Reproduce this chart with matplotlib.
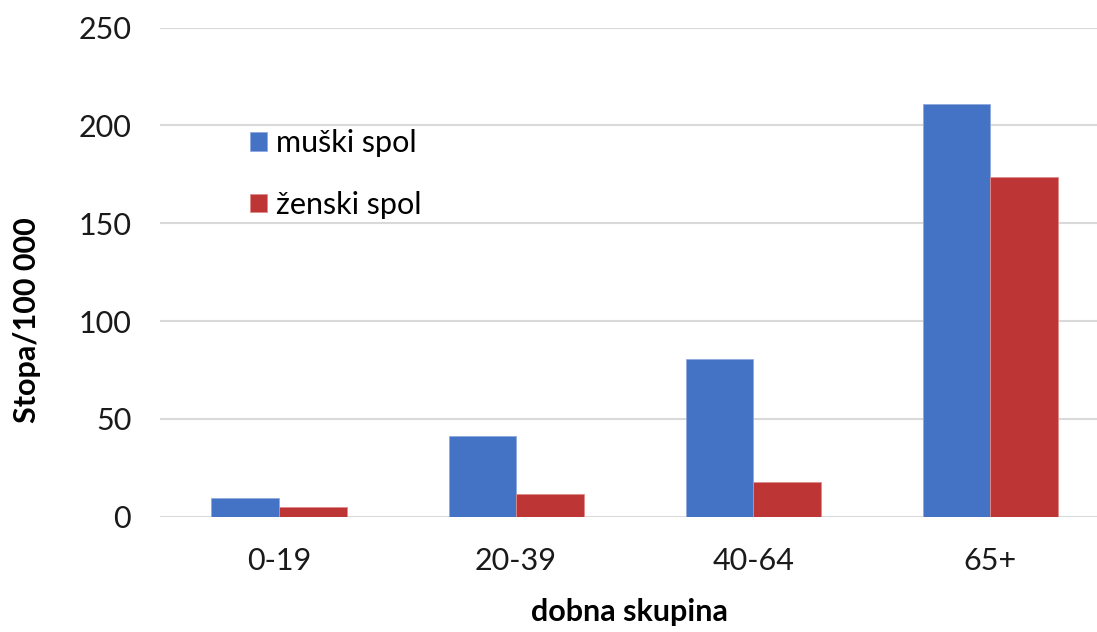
import numpy as np
import matplotlib
matplotlib.use('Agg')
import matplotlib.pyplot as plt

categories = ['0-19', '20-39', '40-64', '65+']
muski = [9.8, 41.4, 80.5, 210.9]
zenski = [4.9, 11.5, 17.5, 173.8]
series_names = ['muški spol', 'ženski spol']

plt.rcParams['font.family'] = ['Lato', 'DejaVu Sans']

fig = plt.figure(figsize=(10.97, 6.32), dpi=100)
# plot area runs past the right edge, like the original
ax = fig.add_axes([160.4 / 1097, (632 - 516.7) / 632, 948.6 / 1097, 489.2 / 632])

x = np.arange(len(categories))
w = 0.285
ax.bar(x - w / 2, muski, w, color='#4472C4', label=series_names[0], zorder=3,
       edgecolor='#8FAADC', linewidth=0.6)
ax.bar(x + w / 2, zenski, w, color='#BE3536', label=series_names[1], zorder=3,
       edgecolor='#E08A8A', linewidth=0.6)

ax.set_xlim(-0.5, 3.5)
ax.set_ylim(0, 250)
ax.set_yticks(range(0, 251, 50))
ax.set_xticks(x)
ax.set_xticklabels(categories)
ax.yaxis.grid(True, color='#D9D9D9', linewidth=1.5, zorder=0)
ax.set_axisbelow(True)
for s in ax.spines.values():
    s.set_visible(False)
ax.tick_params(axis='both', length=0, labelsize=22, colors='#1a1a1a')
ax.tick_params(axis='y', pad=21)
ax.tick_params(axis='x', pad=22)

fig.text(27 / 1097, 1 - 320 / 632, 'Stopa/100 000', rotation=90, ha='center',
         va='center', fontsize=22, fontweight='bold')
fig.text(629 / 1097, 1 - 612 / 632, 'dobna skupina', ha='center', va='center',
         fontsize=22, fontweight='bold')

fig.legend(loc='upper left', bbox_to_anchor=(235 / 1097, 1 - 114 / 632),
           frameon=False, fontsize=22, handlelength=0.55, handleheight=0.55,
           handletextpad=0.3, labelspacing=1.1, borderpad=0)

fig.savefig('out.png', dpi=100)
